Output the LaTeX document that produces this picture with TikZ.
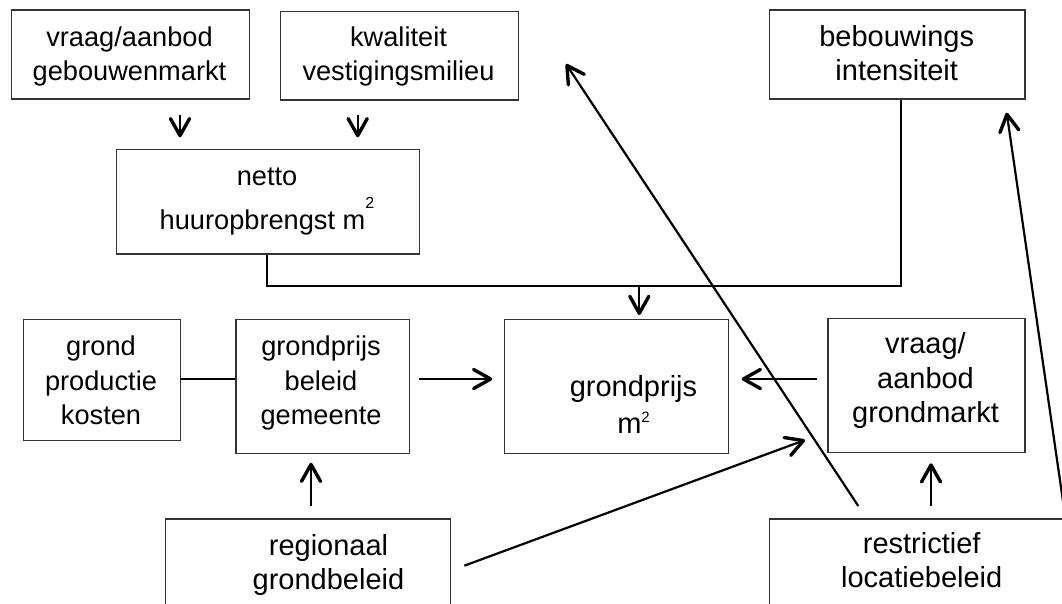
\documentclass[tikz,border=0pt]{standalone}
\usepackage{fontspec}
\setmainfont{Liberation Sans}
\usetikzlibrary{arrows.meta,calc}
\newcommand{\tlines}[1]{\begin{tabular}[t]{@{}c@{}}#1\end{tabular}}
\begin{document}
\begin{tikzpicture}[x=1pt,y=-1pt,
  box/.style={draw=black!80,line width=1.4pt,rectangle,inner sep=0pt,anchor=north west},
  stxt/.style={font=\fontsize{27.2}{34}\selectfont,anchor=base,inner sep=0pt,text=black},
  ltxt/.style={font=\fontsize{29}{34.3}\selectfont,anchor=base,inner sep=0pt,text=black},
  conn/.style={line width=1.8pt,black},
  shaft/.style={line width=2.2pt,black},
  headtip/.style={line width=3.4pt,black,line cap=round,line join=round}]
\useasboundingbox (0,0) rectangle (1062,603);
\clip (0,0) rectangle (1062,603);
% boxes
\node[box,minimum width=238pt,minimum height=89pt] (b1) at (10.7,9.3) {};
\node[box,minimum width=238pt,minimum height=88.6pt] (b2) at (280,10.7) {};
\node[box,minimum width=255.3pt,minimum height=89pt] (beb) at (769,9.3) {};
\node[box,minimum width=303pt,minimum height=104.3pt] (netto) at (116,149) {};
\node[box,minimum width=157pt,minimum height=121.3pt] (gpk) at (22.7,318.7) {};
\node[box,minimum width=173.7pt,minimum height=134.3pt] (gpb) at (235.3,318.7) {};
\node[box,minimum width=223.7pt,minimum height=134pt] (gp) at (504,318.7) {};
\node[box,minimum width=197pt,minimum height=134.3pt] (gm) at (827.3,317.7) {};
\node[box,minimum width=285.3pt,minimum height=110pt] (reg) at (164.7,518.3) {};
\node[box,minimum width=305pt,minimum height=110pt] (restr) at (769,518.3) {};
% texts
\node[stxt] (t1) at (129.5,46) {\tlines{vraag/aanbod\\gebouwenmarkt}};
\node[stxt] (t2) at (398.5,46.7) {\tlines{kwaliteit\\vestigingsmilieu}};
\node[ltxt] (tbeb) at (896.7,46) {\tlines{bebouwings\\intensiteit}};
\node[stxt] (tnet) at (267,185.7) {\tlines{netto\\[1pt]huuropbrengst m\raisebox{21.7pt}{\fontsize{16}{16}\selectfont 2}}};
\node[stxt] (tgpk) at (101,355) {\tlines{grond\\[1pt]productie\\kosten}};
\node[stxt] (tgpb) at (321,355) {\tlines{grondprijs\\[1pt]beleid\\gemeente}};
\node[ltxt] (tgp) at (633.5,396) {\tlines{grondprijs\\[3pt]m\raisebox{10.6pt}{\fontsize{15}{15}\selectfont 2}}};
\node[ltxt] (tgm) at (925.5,353.3) {\tlines{vraag/\\[1pt]aanbod\\grondmarkt}};
\node[ltxt] (treg) at (328.5,555) {\tlines{regionaal\\grondbeleid}};
\node[ltxt] (trestr) at (921.7,553.3) {\tlines{restrictief\\locatiebeleid}};
% helper coordinates: tails and tips of the arrows
\coordinate (jl) at (267.3,286);
\coordinate (jr) at (901,286);
\coordinate (a1s) at (180,115);   \coordinate (a1t) at (180,137.3);
\coordinate (a2s) at (357.7,115); \coordinate (a2t) at (357.7,137.3);
\coordinate (jm) at (639.3,286);  \coordinate (jmt) at (639.3,315);
\coordinate (h1s) at (419,379);   \coordinate (h1t) at (492.3,379);
\coordinate (h2s) at (816.7,379); \coordinate (h2t) at (741.7,379);
\coordinate (r1s) at (311,506);   \coordinate (r1t) at (311,462.7);
\coordinate (r2s) at (931,506);   \coordinate (r2t) at (931,463.3);
\coordinate (d1) at (464.3,565.7); \coordinate (d2) at (805,440);
\coordinate (k1) at (858.3,506);   \coordinate (k2) at (566,64);
\coordinate (e1) at (1063.7,506);  \coordinate (e2) at (1006.7,112.7);
% plain connectors
\draw[conn] (netto.south -| jl) -- (jl) -- (jr) -- (beb.south -| jr);
\draw[conn] (gpk.east |- h1s) -- (gpb.west |- h1s);
% arrows: shaft, then an open V head drawn by hand
\foreach \s/\t in {a1s/a1t,a2s/a2t,jm/jmt,h1s/h1t,h2s/h2t,r1s/r1t,r2s/r2t,d1/d2,k1/k2,e1/e2}{
  \draw[shaft] (\s) -- ($(\t)!1.7pt!(\s)$);
  \draw[headtip] ($(\t)!21pt!27:(\s)$) -- ($(\t)!1.7pt!(\s)$) -- ($(\t)!21pt!-27:(\s)$);
}
\end{tikzpicture}
\end{document}
